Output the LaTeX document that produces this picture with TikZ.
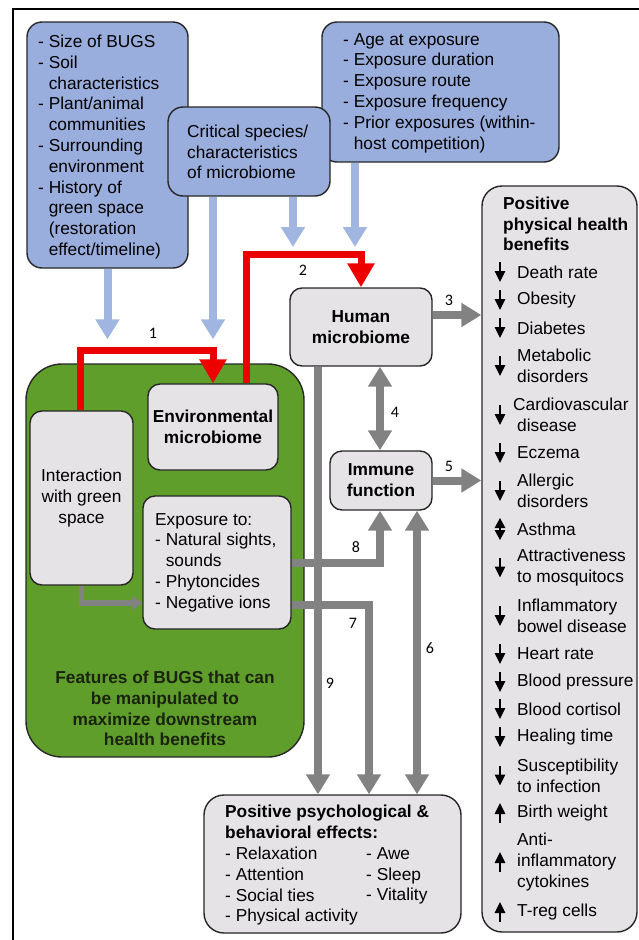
\documentclass[tikz,border=0pt]{standalone}
\usepackage{fontspec}
\setmainfont{Liberation Sans}
\newfontfamily\numfont{Carlito}
\usetikzlibrary{arrows.meta}
\definecolor{bluefill}{RGB}{153,174,221}
\definecolor{bluearr}{RGB}{160,182,224}
\definecolor{grayfill}{RGB}{229,227,229}
\definecolor{grayarr}{RGB}{130,130,130}
\definecolor{greenfill}{RGB}{96,158,44}
\definecolor{redarr}{RGB}{236,0,0}
\definecolor{darktext}{RGB}{25,35,15}
\newcommand{\ind}{\phantom{- }}
\newcommand{\mainsize}{\fontsize{17.3}{20.8}\selectfont}
\begin{document}
\begin{tikzpicture}[x=1pt,y=-1pt,
  font=\mainsize,
  box/.style={draw=black!85, line width=1.4pt, inner sep=0pt},
  bluebox/.style={box, fill=bluefill, rounded corners=15pt},
  graybox/.style={box, fill=grayfill, rounded corners=12pt, align=center},
  txt/.style={align=left, inner sep=0pt, anchor=west},
  num/.style={font=\numfont\fontsize{16}{18}\selectfont, inner sep=0pt},
  bluearrow/.style={draw=bluearr, line width=8pt, -{Triangle[width=23pt,length=20pt]}},
  redarrow/.style={draw=redarr, line width=7pt, -{Triangle[width=26pt,length=24pt]}},
  grayarrow/.style={draw=grayarr, line width=8pt, -{Triangle[width=23pt,length=20pt]}},
  graydouble/.style={draw=grayarr, line width=8pt, {Triangle[width=23pt,length=20pt]}-{Triangle[width=23pt,length=20pt]}},
  graysmall/.style={draw=grayarr, line width=5.5pt, -{Triangle[width=14pt,length=10pt]}},
  down/.style={line width=1.5pt, -{Triangle[width=10.5pt,length=11pt]}},
  both/.style={line width=1.5pt, {Triangle[width=10.5pt,length=10pt]}-{Triangle[width=10.5pt,length=10pt]}},
]
\useasboundingbox (0,0) rectangle (639,940);
% outer frame
\draw[line width=2pt] (13,940) -- (13,9) -- (639,9);

% top blue boxes
\node[bluebox, minimum width=161pt, minimum height=246pt] (tl) at (107.5,145) {};
\node[txt] (tltext) at (38,147) {- Size of BUGS\\- Soil\\\ind characteristics\\- Plant/animal\\\ind communities\\- Surrounding\\\ind environment\\- History of\\\ind green space\\\ind (restoration\\\ind effect/timeline)};
\node[bluebox, minimum width=237pt, minimum height=140pt] (tr) at (440.5,92) {};
\node[txt] (trtext) at (343,93) {- Age at exposure\\- Exposure duration\\- Exposure route\\- Exposure frequency\\- Prior exposures (within-\\\ind host competition)};
\node[bluebox, minimum width=162pt, minimum height=89pt] (crit) at (249,151.5) {};
\node[txt] (crittext) at (187,152) {Critical species/\\characteristics\\of microbiome};

% right physical benefits box
\node[box, fill=grayfill, rounded corners=20pt, minimum width=155pt, minimum height=746pt] (phys) at (559.5,559) {};
\node[txt, font=\mainsize\bfseries] (phystitle) at (503,224) {Positive\\physical health\\benefits};

% green box
\node[box, fill=greenfill, rounded corners=36pt, minimum width=278pt, minimum height=393pt] (green) at (165,560.5) {};
\node[inner sep=0pt, align=center, text=darktext, font=\mainsize\bfseries] (feat) at (165,708.5) {Features of BUGS that can\\be manipulated to\\maximize downstream\\health benefits};
\node[graybox, minimum width=130pt, minimum height=86pt, font=\mainsize\bfseries] (env) at (213,427) {Environmental\\microbiome};
\node[graybox, minimum width=103pt, minimum height=174pt] (int) at (81.5,498) {Interaction\\with green\\space};
\node[graybox, minimum width=148pt, minimum height=133pt] (exp) at (217,562.5) {};
\node[txt] (exptext) at (155,562.5) {Exposure to:\\- Natural sights,\\\ind sounds\\- Phytoncides\\- Negative ions};

% human microbiome & immune
\node[graybox, minimum width=142pt, minimum height=78pt, font=\mainsize\bfseries] (hm) at (361,327) {Human\\microbiome};
\node[graybox, minimum width=102pt, minimum height=59pt, font=\mainsize\bfseries] (im) at (381,480.5) {Immune\\function};

% psych box
\node[box, fill=grayfill, rounded corners=20pt, minimum width=257pt, minimum height=138pt] (ps) at (332.5,864) {};
\node[txt] (pstext) at (225,865.5) {\textbf{Positive psychological \&}\\\textbf{behavioral effects:}\\- Relaxation\\- Attention\\- Social ties\\- Physical activity};
\node[txt] (pstext2) at (366,876) {- Awe\\- Sleep\\- Vitality};

% blue arrows
\draw[bluearrow] (tl.south) -- ([yshift=24pt]tl.south |- green.north);
\draw[bluearrow] ([xshift=-36pt]crit.south) -- ([yshift=44pt]env.north);
\coordinate (b3end) at (293,247);
\coordinate (b4end) at (355,247);
\draw[bluearrow] ([xshift=44pt]crit.south) -- (b3end);
\draw[bluearrow] ([xshift=-85.5pt]tr.south) -- (b4end);

% red arrows
\coordinate (r1) at (150,350);
\draw[redarrow] ([xshift=-1.5pt]int.north) |- (r1) -| (env.north);
\coordinate (r2) at (300,254);
\draw[redarrow] ([xshift=33pt]env.north) |- (r2) -| (hm.north);

% gray arrows
\draw[grayarrow] ([yshift=12pt]hm.east) -- ([yshift=12pt]hm.east -| phys.west);
\draw[graydouble] ([xshift=-1pt]im.north) -- ([xshift=-1pt]im.north |- hm.south);
\draw[grayarrow] (im.east) -- (im.east -| phys.west);
\draw[grayarrow] ([xshift=-43pt]hm.south) -- ([xshift=-14.5pt]ps.north);
\draw[grayarrow] (exp.east) -| ([xshift=-1pt]im.south);
\draw[grayarrow] ([yshift=-42.5pt]exp.east) -| ([xshift=36.5pt]ps.north);
\draw[graydouble] ([xshift=36pt]im.south) -- ([xshift=36pt]im.south |- ps.north);
\draw[graysmall] (int.south) |- ([yshift=-40.5pt]exp.west);

% numbers
\node[num] (n1) at (153,333) {1};
\node[num] (n2) at (303,270) {2};
\node[num] (n3) at (449,300) {3};
\node[num] (n4) at (395,412) {4};
\node[num] (n5) at (449,466) {5};
\node[num] (n6) at (430,648) {6};
\node[num] (n7) at (353,623) {7};
\node[num] (n8) at (356,547) {8};
\node[num] (n9) at (330,683) {9};

% physical items
\node[txt] (p1) at (517,272) {Death rate};
\node[txt] (p2) at (517,300) {Obesity};
\node[txt] (p3) at (517,328) {Diabetes};
\node[txt] (p4) at (517,366) {Metabolic\\disorders};
\node[txt] (p5) at (513,415) {Cardiovascular\\\hspace*{4pt}disease};
\node[txt] (p6) at (517,453) {Eczema};
\node[txt] (p7) at (517,491) {Allergic\\disorders};
\node[txt] (p8) at (517,529) {Asthma};
\node[txt] (p9) at (517,567.5) {Attractiveness\\to mosquitocs};
\node[txt] (p10) at (517,616) {Inflammatory\\bowel disease};
\node[txt] (p11) at (517,654) {Heart rate};
\node[txt] (p12) at (517,682) {Blood pressure};
\node[txt] (p13) at (517,709) {Blood cortisol};
\node[txt] (p14) at (517,737) {Healing time};
\node[txt] (p15) at (517,775.5) {Susceptibility\\to infection};
\node[txt] (p16) at (517,813) {Birth weight};
\node[txt] (p17) at (517,862) {Anti-\\inflammatory\\cytokines};
\node[txt] (p18) at (517,912) {T-reg cells};

% glyph arrows
\foreach \yy in {272,300,328,366,415,453,491,567.5,616,654,682,709,737,775.5}
  \draw[down] (500,\yy-10) -- (500,\yy+10);
\draw[both] (500,518) -- (500,540);
\foreach \yy in {813,862,912}
  \draw[down] (500,\yy+10) -- (500,\yy-10);
\end{tikzpicture}
\end{document}
